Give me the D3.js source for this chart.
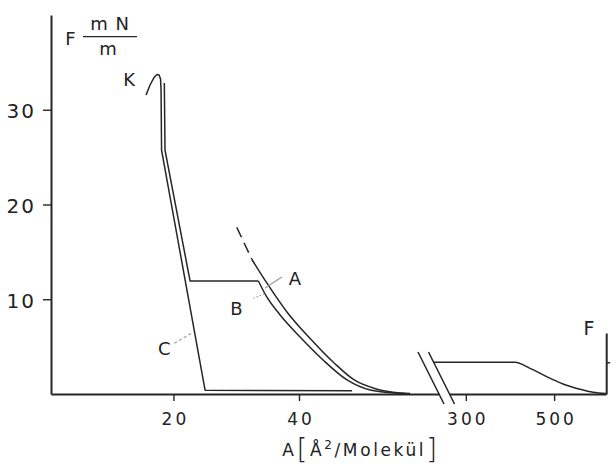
<!DOCTYPE html>
<html>
<head>
<meta charset="utf-8">
<script src="https://cdn.jsdelivr.net/npm/d3@7"></script>
<style>
  body { margin: 0; background: #fff; }
  text { font-family: "DejaVu Sans", sans-serif; fill: #222; }
</style>
</head>
<body>
<script>
// tick values
const yTicks = [10, 20, 30];
const xTicksLeft = [20, 40];
const xTicksRight = [300, 500];

// curves, [area in A^2/molecule, pressure in mN/m]
const curveKC = [[15.64, 31.56], [16.27, 32.61], [16.91, 33.40], [17.39, 33.72], [17.71, 33.67],
  [17.95, 33.25], [18.03, 32.08], [18.11, 25.75], [25.04, 0.40], [48.46, 0.33]];
const curveBStraight = [[18.55, 32.82], [18.66, 25.75], [22.65, 11.93], [33.53, 11.93]];
const curveBTail = [[33.53, 11.93], [34.87, 10.24], [36.99, 8.34], [40.17, 6.02], [43.84, 3.59],
  [47.66, 1.48], [51.33, 0.42], [55.31, 0.11], [56.9, 0.05]];
const curveA = [[32.48, 14.22], [34.87, 11.72], [38.2, 8.55], [42.0, 5.70], [45.6, 3.27],
  [48.8, 1.48], [52.3, 0.53], [56.11, 0.11], [57.7, 0.05]];
const curveADashed = [[30.09, 17.59], [32.48, 14.22]];
const curveF = [[227, 3.35], [411.4, 3.35], [445.4, 2.71], [483.2, 1.83], [520.1, 1.06],
  [558.6, 0.50], [588.0, 0.18], [617.5, 0.05]];
const fLevel = 3.35;

// labels: [text, x, y] in data units of the left part
const labels = [["K", 12.93, 33.14], ["A", 39.34, 12.24], ["B", 30.04, 8.97], ["C", 18.56, 4.8]];
// leader lines
const leaders = [
  { from: [34.6, 11.2], to: [37.27, 12.35], dash: null },
  { from: [32.72, 10.1], to: [34.7, 10.63], dash: "1.5,2" },
  { from: [20.14, 5.35], to: [23.17, 6.51], dash: "3,2.5" }
];

const svg = d3.select("body").append("svg").attr("width", 616).attr("height", 468);

const baseY = 394;
const y = d3.scaleLinear().domain([0, 40]).range([baseY, 15]);
const xLeft = d3.scaleLinear().domain([0.5, 62.3]).range([51, 439]);
const xRight = d3.scaleLinear().domain([263, 618]).range([449.5, 606.2]);

const ink = "#262626";

// y axis
const gy = svg.append("g").attr("transform", "translate(51,0)")
  .call(d3.axisLeft(y).tickValues(yTicks).tickSize(8).tickSizeOuter(0).tickPadding(7));
gy.selectAll("text").attr("font-size", 20).attr("letter-spacing", 2).attr("dy", "0.4em");

// x axis, two parts
const gxl = svg.append("g").attr("transform", `translate(0,${baseY})`)
  .call(d3.axisBottom(xLeft).tickValues(xTicksLeft).tickSize(7).tickSizeOuter(0).tickPadding(12));
const gxr = svg.append("g").attr("transform", `translate(0,${baseY})`)
  .call(d3.axisBottom(xRight).tickValues(xTicksRight).tickSize(7).tickSizeOuter(0).tickPadding(12));
[gxl, gxr].forEach(g => g.selectAll("text").attr("font-size", 17).attr("letter-spacing", 3).attr("dx", 1.5));

// small right axis for F
const yF = y.copy().domain([0, 6.44]).range([baseY, y(6.44)]);
svg.append("g").attr("transform", `translate(${xRight(618)},0)`)
  .call(d3.axisRight(yF).tickValues([fLevel]).tickSize(4).tickSizeOuter(0).tickFormat(""));

svg.selectAll(".domain").attr("stroke", ink).attr("stroke-width", 2);
svg.selectAll(".tick line").attr("stroke", ink).attr("stroke-width", 1.4);

// axis break marks
[xLeft(62.3), xRight(263)].forEach(bx => {
  svg.append("line")
    .attr("x1", bx - 21).attr("y1", baseY - 42)
    .attr("x2", bx + 5).attr("y2", baseY + 10)
    .attr("stroke", ink).attr("stroke-width", 1.6);
});

// curves
const lineL = d3.line().x(d => xLeft(d[0])).y(d => y(d[1]));
const smoothL = d3.line().x(d => xLeft(d[0])).y(d => y(d[1])).curve(d3.curveMonotoneX);
const smoothR = d3.line().x(d => xRight(d[0])).y(d => y(d[1])).curve(d3.curveMonotoneX);

const curves = svg.append("g").attr("fill", "none").attr("stroke", ink)
  .attr("stroke-width", 1.5).attr("stroke-linejoin", "round");
curves.append("path").attr("d", lineL(curveKC));
curves.append("path").attr("d", lineL(curveBStraight));
curves.append("path").attr("d", smoothL(curveBTail));
curves.append("path").attr("d", smoothL(curveA));
curves.append("path").attr("d", lineL(curveADashed)).attr("stroke-dasharray", "11,6");
curves.append("path").attr("d", smoothR(curveF));

// leader lines
svg.append("g").selectAll("line").data(leaders).join("line")
  .attr("x1", d => xLeft(d.from[0])).attr("y1", d => y(d.from[1]))
  .attr("x2", d => xLeft(d.to[0])).attr("y2", d => y(d.to[1]))
  .attr("stroke", "#9a9a9a").attr("stroke-width", 1.2)
  .attr("stroke-dasharray", d => d.dash);

// curve labels
svg.append("g").selectAll("text").data(labels).join("text")
  .attr("x", d => xLeft(d[1])).attr("y", d => y(d[2]))
  .attr("dy", "0.36em").attr("text-anchor", "middle").attr("font-size", 18)
  .text(d => d[0]);

svg.append("text").attr("x", 589).attr("y", 335).attr("text-anchor", "middle")
  .attr("font-size", 19).text("F");

// y label F mN/m
svg.append("text").attr("x", 70.5).attr("y", 45).attr("text-anchor", "middle")
  .attr("font-size", 18).text("F");
svg.append("text").attr("x", 110).attr("y", 30).attr("text-anchor", "middle")
  .attr("font-size", 18).attr("letter-spacing", 1).text("m N");
svg.append("line").attr("x1", 83).attr("x2", 137).attr("y1", 36.7).attr("y2", 36.7)
  .attr("stroke", ink).attr("stroke-width", 1.3);
svg.append("text").attr("x", 108).attr("y", 55).attr("text-anchor", "middle")
  .attr("font-size", 18).text("m");

// x label A[Å²/Molekül]
const xt = svg.append("text").attr("x", 361).attr("y", 456).attr("text-anchor", "middle")
  .attr("font-size", 17).attr("letter-spacing", 2.6);
xt.append("tspan").text("A");
xt.append("tspan").attr("font-size", 28).attr("dy", 3).attr("font-weight", 200).text("[");
xt.append("tspan").attr("dy", -3).text("Å");
xt.append("tspan").attr("font-size", 12).attr("dy", -7).text("2");
xt.append("tspan").attr("dy", 7).text("/Molekül");
xt.append("tspan").attr("font-size", 28).attr("dy", 3).attr("font-weight", 200).text("]");
</script>
</body>
</html>
